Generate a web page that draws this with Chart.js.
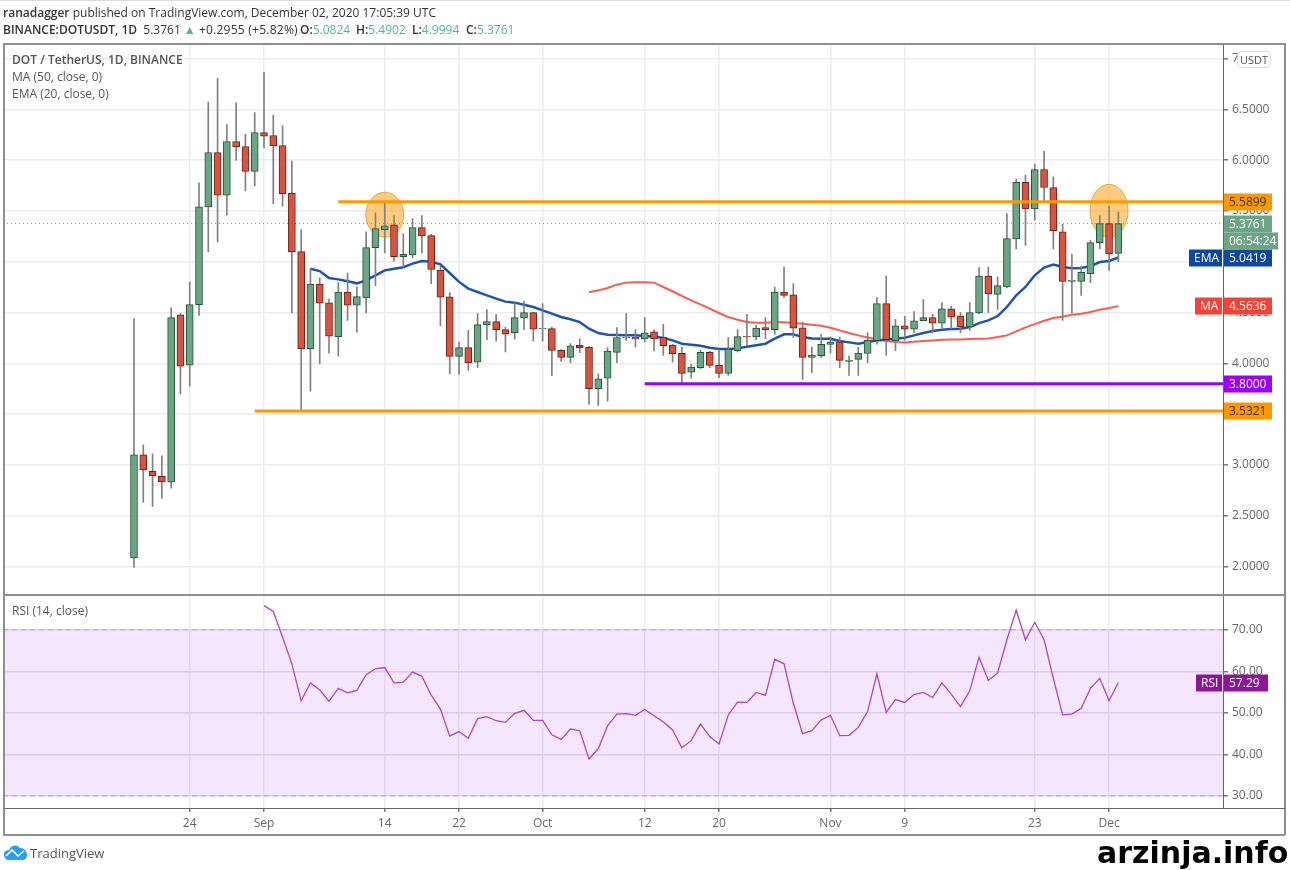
<!DOCTYPE html>
<html>
<head>
<meta charset="utf-8">
<title>DOT / TetherUS</title>
<script src="https://cdn.jsdelivr.net/npm/chart.js@4/dist/chart.umd.min.js"></script>
<style>
    html, body { margin: 0; padding: 0; background: #fff; }
    body { width: 1290px; height: 870px; position: relative; overflow: hidden; font-family: "Open Sans", sans-serif; color: #555; }
    canvas { position: absolute; left: 0; top: 0; }
    .txt { position: absolute; white-space: nowrap; font-size: 12px; line-height: 16px; }
    .rule { position: absolute; background: #8f8f8f; }
    b { font-weight: 600; }
    .v { color: #4db6a0; }
</style>
</head>
<body>
<canvas id="priceChart" width="1290" height="870"></canvas>

<div class="rule" style="left:0;top:0;width:1290px;height:1px;background:#ddd"></div>
<div class="rule" style="left:3px;top:43px;width:1282px;height:1.5px"></div>
<div class="rule" style="left:3px;top:43px;width:1.5px;height:792px"></div>
<div class="rule" style="left:1284px;top:43px;width:1.5px;height:792px"></div>
<div class="rule" style="left:3px;top:834px;width:1282px;height:1.5px"></div>
<div class="rule" style="left:3px;top:594px;width:1282px;height:1.5px"></div>
<div class="rule" style="left:1223px;top:808px;width:62px;height:1px;background:#666"></div>

<div class="txt" style="left:3px;top:5px;color:#333"><b>ranadagger</b> published on TradingView.com, December 02, 2020 17:05:39 UTC</div>
<div class="txt" style="left:3px;top:22px;color:#333"><b>BINANCE:DOTUSDT, 1D</b>&nbsp; 5.3761 <span class="v">&#9650;</span> <span style="letter-spacing:.25px">+0.2955 (+5.82%)</span></div>
<div class="txt" style="left:300px;top:22px;color:#333"><b>O:</b><span class="v">5.0824</span></div>
<div class="txt" style="left:356px;top:22px;color:#333"><b>H:</b><span class="v">5.4902</span></div>
<div class="txt" style="left:412px;top:22px;color:#333"><b>L:</b><span class="v">4.9994</span></div>
<div class="txt" style="left:466px;top:22px;color:#333"><b>C:</b><span class="v">5.3761</span></div>
<div class="txt" style="left:12px;top:52px"><b>DOT / TetherUS, 1D, BINANCE</b></div>
<div class="txt" style="left:12px;top:69px">MA (50, close, 0)</div>
<div class="txt" style="left:12px;top:86px">EMA (20, close, 0)</div>
<div class="txt" style="left:12px;top:603px">RSI (14, close)</div>
<div class="txt" style="left:1237px;top:51px;width:32px;height:15px;line-height:15px;border:1px solid #d8dae8;border-radius:4px;background:#fff;text-align:center;font-size:11px">USDT</div>

<svg style="position:absolute;left:3px;top:844px" width="25" height="17" viewBox="0 0 25 17">
    <path d="M1 12 C0 8 3 6 6 6 C8 1 14 0 17 4 C21 4 24 7 24 11 C24 14 22 16 19 16 L5 16 C3 16 2 14 1 12Z" fill="#2a9df4"/>
    <path d="M3 12 L9 6 L15 12 L21 7" fill="none" stroke="#fff" stroke-width="1.6"/>
</svg>
<div class="txt" style="left:30px;top:845px;font-size:13px">TradingView</div>
<div class="txt" style="left:1097px;top:835px;font-family:'DejaVu Sans';font-weight:bold;font-size:30px;line-height:36px;color:#000">arzinja.info</div>

<script>
// Дни считаются от первой свечи (18 августа)
const opens = [2.085, 3.100, 2.939, 2.890, 2.831, 4.479, 3.983, 4.578, 5.540, 6.075, 5.655, 6.184, 6.134, 5.888, 6.272, 6.243, 6.144, 5.675, 5.100, 4.144, 4.781, 4.597, 4.263, 4.703, 4.574, 4.644, 5.139, 5.317, 5.363, 5.051, 5.067, 5.336, 5.257, 4.916, 4.654, 4.069, 4.155, 4.013, 4.378, 4.411, 4.332, 4.302, 4.447, 4.499, 4.341, 4.342, 4.128, 4.059, 4.178, 4.158, 3.751, 3.856, 4.109, 4.250, 4.257, 4.240, 4.312, 4.257, 4.181, 4.099, 3.915, 3.958, 4.109, 3.984, 3.902, 4.125, 4.266, 4.260, 4.352, 4.332, 4.703, 4.676, 4.351, 4.059, 4.075, 4.187, 4.213, 4.020, 4.039, 4.098, 4.223, 4.588, 4.223, 4.371, 4.338, 4.420, 4.450, 4.397, 4.538, 4.469, 4.358, 4.496, 4.860, 4.680, 4.752, 5.225, 5.783, 5.520, 5.908, 5.731, 5.294, 4.808, 4.808, 4.883, 5.189, 5.376, 5.0824];
const highs = [4.440, 3.198, 3.110, 3.090, 4.548, 4.489, 4.801, 5.776, 6.571, 6.804, 6.351, 6.565, 6.253, 6.469, 6.863, 6.443, 6.338, 5.990, 5.317, 4.932, 4.841, 4.634, 4.795, 4.890, 4.752, 5.294, 5.481, 5.579, 5.455, 5.277, 5.425, 5.455, 5.271, 4.955, 4.696, 4.210, 4.325, 4.490, 4.529, 4.483, 4.358, 4.595, 4.614, 4.506, 4.588, 4.358, 4.135, 4.194, 4.243, 4.168, 3.898, 4.155, 4.352, 4.490, 4.332, 4.450, 4.332, 4.384, 4.187, 4.161, 3.990, 4.128, 4.122, 4.135, 4.253, 4.332, 4.483, 4.375, 4.450, 4.752, 4.949, 4.785, 4.407, 4.161, 4.286, 4.259, 4.259, 4.072, 4.161, 4.302, 4.647, 4.860, 4.433, 4.463, 4.509, 4.627, 4.483, 4.598, 4.562, 4.499, 4.598, 4.942, 4.949, 4.851, 5.474, 5.813, 5.852, 5.961, 6.089, 5.836, 5.369, 5.074, 4.956, 5.212, 5.455, 5.547, 5.4902];
const lows = [1.993, 2.634, 2.594, 2.673, 2.772, 3.701, 3.776, 4.473, 5.097, 5.195, 5.458, 6.000, 5.698, 5.747, 6.121, 5.573, 5.547, 4.496, 3.530, 3.727, 3.996, 4.102, 4.072, 4.423, 4.308, 4.496, 4.765, 5.087, 5.005, 4.949, 5.038, 5.087, 4.785, 4.368, 3.898, 3.892, 3.931, 3.958, 4.233, 4.220, 4.112, 4.240, 4.332, 4.220, 4.220, 3.882, 4.020, 4.007, 4.105, 3.596, 3.586, 3.629, 4.007, 4.227, 4.161, 4.211, 4.122, 4.079, 4.013, 3.790, 3.856, 3.948, 3.958, 3.859, 3.882, 4.112, 4.178, 4.233, 4.243, 4.286, 4.647, 4.253, 3.842, 3.908, 4.056, 4.102, 3.957, 3.882, 3.882, 4.007, 4.190, 4.079, 4.125, 4.227, 4.299, 4.420, 4.299, 4.351, 4.341, 4.299, 4.325, 4.489, 4.496, 4.532, 4.742, 5.126, 5.162, 5.409, 5.599, 5.126, 4.424, 4.496, 4.670, 4.795, 5.126, 4.916, 4.9994];
const closes = [3.100, 2.952, 2.893, 2.834, 4.450, 3.974, 4.578, 5.540, 6.075, 5.655, 6.184, 6.131, 5.888, 6.272, 6.236, 6.141, 5.671, 5.097, 4.144, 4.781, 4.594, 4.269, 4.703, 4.574, 4.657, 5.139, 5.327, 5.353, 5.051, 5.074, 5.336, 5.254, 4.926, 4.653, 4.069, 4.155, 4.004, 4.381, 4.411, 4.332, 4.289, 4.450, 4.499, 4.338, 4.345, 4.128, 4.059, 4.174, 4.155, 3.751, 3.849, 4.122, 4.253, 4.257, 4.240, 4.302, 4.240, 4.174, 4.095, 3.902, 3.964, 4.109, 3.981, 3.902, 4.141, 4.263, 4.260, 4.348, 4.329, 4.703, 4.670, 4.348, 4.059, 4.082, 4.187, 4.213, 4.030, 4.033, 4.102, 4.227, 4.588, 4.233, 4.371, 4.338, 4.420, 4.450, 4.397, 4.538, 4.456, 4.358, 4.499, 4.860, 4.683, 4.765, 5.228, 5.783, 5.520, 5.908, 5.731, 5.307, 4.808, 4.821, 4.897, 5.189, 5.376, 5.077, 5.3761];

const emaStart = 19;
const emaValues = [4.932, 4.909, 4.840, 4.827, 4.808, 4.788, 4.817, 4.867, 4.916, 4.932, 4.946, 4.982, 5.008, 5.001, 4.975, 4.890, 4.802, 4.736, 4.703, 4.670, 4.637, 4.608, 4.598, 4.578, 4.555, 4.522, 4.490, 4.457, 4.434, 4.407, 4.342, 4.299, 4.283, 4.279, 4.276, 4.276, 4.270, 4.266, 4.250, 4.227, 4.194, 4.184, 4.174, 4.155, 4.141, 4.141, 4.148, 4.164, 4.178, 4.194, 4.243, 4.286, 4.286, 4.259, 4.246, 4.243, 4.243, 4.220, 4.207, 4.194, 4.210, 4.226, 4.236, 4.243, 4.253, 4.276, 4.299, 4.319, 4.332, 4.338, 4.341, 4.358, 4.397, 4.424, 4.466, 4.555, 4.670, 4.752, 4.867, 4.943, 4.972, 4.949, 4.936, 4.939, 4.956, 4.998, 5.008, 5.0419];

const maStart = 49;
const maValues = [4.700, 4.719, 4.742, 4.775, 4.795, 4.798, 4.798, 4.795, 4.752, 4.710, 4.664, 4.621, 4.581, 4.539, 4.496, 4.457, 4.430, 4.407, 4.401, 4.401, 4.404, 4.404, 4.397, 4.391, 4.381, 4.371, 4.351, 4.325, 4.299, 4.276, 4.256, 4.236, 4.220, 4.210, 4.207, 4.213, 4.220, 4.226, 4.233, 4.236, 4.236, 4.240, 4.243, 4.246, 4.259, 4.276, 4.315, 4.355, 4.387, 4.420, 4.447, 4.460, 4.479, 4.489, 4.506, 4.529, 4.545, 4.5636];

const rsiStart = 14;
const rsiValues = [75.8, 74.4, 68.2, 61.8, 52.9, 57.2, 55.5, 52.8, 55.9, 54.8, 55.4, 59.2, 60.6, 60.9, 57.2, 57.4, 59.8, 58.8, 54.3, 50.9, 44.4, 45.5, 43.9, 48.6, 49.1, 48.1, 47.7, 49.9, 50.6, 48.2, 48.2, 44.7, 43.6, 46.1, 45.7, 38.9, 41.4, 46.9, 49.7, 49.8, 49.4, 50.8, 49.3, 47.8, 45.9, 41.6, 43.3, 47.3, 44.3, 42.5, 49.5, 52.6, 52.5, 54.9, 54.2, 62.9, 61.8, 52.3, 45.0, 45.7, 48.3, 49.4, 44.5, 44.6, 46.5, 50.3, 59.4, 50.1, 53.2, 52.5, 54.4, 54.9, 53.7, 57.2, 54.5, 51.5, 55.3, 63.4, 57.8, 59.6, 67.6, 74.7, 67.6, 71.8, 67.6, 58.3, 49.5, 49.7, 51.1, 55.9, 58.3, 52.9, 57.29];

const tickDays = [6, 14, 27, 35, 44, 55, 63, 75, 83, 97, 105];
const tickLabels = ['24', 'Sep', '14', '22', 'Oct', '12', '20', 'Nov', '9', '23', 'Dec'];
const priceTicks = [2, 2.5, 3, 3.5, 4, 4.5, 5, 5.5, 6, 6.5, 7];
const rsiTicks = [30, 40, 50, 60, 70];

const firstDay = -14.107;
const lastDay = 117.27;

// Уровни, нарисованные на графике
const levelStartDays = [22, 13, 55];
const levelPrices = [5.5899, 3.5321, 3.8];
const levelColors = ['#ff9800', '#ff9800', '#9900ff'];
const lastPrice = 5.3761;

const circleDays = [27, 105];
const circlePrices = [5.463, 5.502];

// Плашки справа от шкалы цены
const tagNames = ['', '', 'EMA', 'MA', '', ''];
const tagPrices = [5.5899, 5.3761, 5.0419, 4.5636, 3.8, 3.5321];
const tagColors = ['#ff9800', '#6ba583', '#0d47a1', '#f44336', '#9900ff', '#ff9800'];
const tagTextColors = ['#333', '#fff', '#fff', '#fff', '#fff', '#333'];
const countdown = '06:54:24';
const rsiLast = 57.29;

const candleBody = opens.map((o, i) => ({ x: i, y: [o, closes[i]] }));
const candleWick = lows.map((l, i) => ({ x: i, y: [l, highs[i]] }));
const series = (values, start) => values.map((v, i) => ({ x: start + i, y: v }));
const isUp = i => closes[i] >= opens[i];

function hLine(from, value) {
    return [{ x: from, y: value }, { x: lastDay, y: value }];
}

function drawTag(ctx, left, right, y, text, bg, color) {
    ctx.fillStyle = bg;
    ctx.fillRect(left, Math.round(y) - 8.5, right - left, 17);
    ctx.fillStyle = color;
    ctx.textBaseline = 'middle';
    ctx.textAlign = 'left';
    ctx.fillText(text, left + 5, Math.round(y) + 0.5);
}

const overlayPlugin = {
    id: 'overlay',
    beforeDatasetsDraw(chart) {
        const { ctx, scales } = chart;
        // Оранжевые овалы на вершинах, свечи идут поверх них
        circleDays.forEach((d, i) => {
            ctx.save();
            ctx.beginPath();
            ctx.ellipse(scales.x.getPixelForValue(d), scales.yPrice.getPixelForValue(circlePrices[i]), 19, i === 0 ? 22.5 : 26.5, 0, 0, Math.PI * 2);
            ctx.fillStyle = 'rgba(255, 152, 0, 0.5)';
            ctx.strokeStyle = 'rgba(205, 170, 60, 0.9)';
            ctx.lineWidth = 1;
            ctx.fill();
            ctx.stroke();
            ctx.restore();
        });
    },
    afterDraw(chart) {
        const { ctx, scales } = chart;
        ctx.save();
        ctx.font = '12px "Open Sans"';
        tagPrices.forEach((p, i) => {
            const y = scales.yPrice.getPixelForValue(p);
            drawTag(ctx, 1224, 1272, y, p.toFixed(4), tagColors[i], tagTextColors[i]);
            if (tagNames[i]) {
                drawTag(ctx, tagNames[i] === 'EMA' ? 1189 : 1195, 1222, y, tagNames[i], tagColors[i], '#fff');
            }
        });
        drawTag(ctx, 1224, 1278, scales.yPrice.getPixelForValue(lastPrice) + 17, countdown, '#6ba583', '#fff');
        const rsiY = scales.yRsi.getPixelForValue(rsiLast);
        drawTag(ctx, 1196, 1222, rsiY, 'RSI', '#8e1599', '#fff');
        drawTag(ctx, 1224, 1268, rsiY, rsiLast.toFixed(2), '#8e1599', '#fff');
        ctx.restore();
    }
};

const ctx = document.getElementById('priceChart').getContext('2d');
new Chart(ctx, {
    data: {
        datasets: [
            ...levelPrices.map((p, i) => ({
                type: 'line',
                data: hLine(levelStartDays[i], p),
                yAxisID: 'yPrice',
                borderColor: levelColors[i],
                borderWidth: 3,
                pointRadius: 0,
                order: 0
            })),
            {
                type: 'bar',
                data: candleBody,
                yAxisID: 'yPrice',
                backgroundColor: c => isUp(c.dataIndex) ? '#6ba583' : '#d75442',
                borderColor: c => isUp(c.dataIndex) ? '#225437' : '#6f1d12',
                borderWidth: 1,
                borderSkipped: false,
                barThickness: 7,
                grouped: false,
                order: 2
            },
            {
                type: 'bar',
                data: candleWick,
                yAxisID: 'yPrice',
                backgroundColor: '#808081',
                barThickness: 1,
                grouped: false,
                order: 3
            },
            {
                type: 'line',
                data: series(emaValues, emaStart),
                yAxisID: 'yPrice',
                borderColor: '#1c54b0',
                borderWidth: 2.5,
                pointRadius: 0,
                order: 4
            },
            {
                type: 'line',
                data: series(maValues, maStart),
                yAxisID: 'yPrice',
                borderColor: '#ff5a50',
                borderWidth: 2,
                pointRadius: 0,
                order: 5
            },
            {
                type: 'line',
                data: hLine(firstDay, lastPrice),
                yAxisID: 'yPrice',
                borderColor: '#6ba583',
                borderWidth: 1,
                borderDash: [1, 3],
                pointRadius: 0,
                order: 6
            },
            {
                type: 'line',
                data: series(rsiValues, rsiStart),
                yAxisID: 'yRsi',
                borderColor: '#ab47bc',
                borderWidth: 1.3,
                pointRadius: 0,
                order: 0
            },
            {
                type: 'line',
                data: hLine(firstDay, 70),
                yAxisID: 'yRsi',
                borderColor: '#b9a5c0',
                borderWidth: 1,
                borderDash: [5, 4],
                backgroundColor: 'rgba(170, 60, 240, 0.13)',
                fill: { value: 30 },
                pointRadius: 0,
                order: 7
            },
            {
                type: 'line',
                data: hLine(firstDay, 30),
                yAxisID: 'yRsi',
                borderColor: '#b9a5c0',
                borderWidth: 1,
                borderDash: [5, 4],
                pointRadius: 0,
                order: 7
            }
        ]
    },
    options: {
        responsive: false,
        animation: false,
        events: [],
        layout: { padding: { top: 44, left: 3, right: 5, bottom: 35 } },
        plugins: { legend: { display: false }, tooltip: { enabled: false } },
        scales: {
            x: {
                type: 'linear',
                offset: false,
                min: firstDay,
                max: lastDay,
                afterBuildTicks: s => { s.ticks = tickDays.map(v => ({ value: v })); },
                afterFit: s => { s.height = 27; },
                grid: { offset: false, color: '#ececf0', lineWidth: 1.5, tickColor: '#777', tickLength: 4 },
                border: { color: '#666' },
                ticks: {
                    autoSkip: false,
                    maxRotation: 0,
                    padding: 4,
                    color: '#666',
                    font: { family: 'Open Sans', size: 12 },
                    callback: v => tickLabels[tickDays.indexOf(v)]
                }
            },
            yPrice: {
                type: 'linear',
                position: 'right',
                stack: 'panes',
                stackWeight: 550,
                min: 1.724,
                max: 7.143,
                afterBuildTicks: s => { s.ticks = priceTicks.map(v => ({ value: v })); },
                afterFit: s => { s.width = 62; },
                grid: { color: '#ececec', lineWidth: 1.5, tickColor: '#777', tickLength: 5 },
                border: { color: '#666' },
                ticks: {
                    padding: 4,
                    color: '#666',
                    font: { family: 'Open Sans', size: 12 },
                    callback: v => v.toFixed(4)
                }
            },
            yRsi: {
                type: 'linear',
                position: 'right',
                stack: 'panes',
                stackWeight: 213,
                min: 27.1,
                max: 78.43,
                afterBuildTicks: s => { s.ticks = rsiTicks.map(v => ({ value: v })); },
                afterFit: s => { s.width = 62; },
                grid: { color: '#e6dcec', lineWidth: 1.5, tickColor: '#777', tickLength: 5 },
                border: { color: '#666' },
                ticks: {
                    padding: 4,
                    color: '#666',
                    font: { family: 'Open Sans', size: 12 },
                    callback: v => v.toFixed(2)
                }
            }
        }
    },
    plugins: [overlayPlugin]
});
</script>
</body>
</html>
